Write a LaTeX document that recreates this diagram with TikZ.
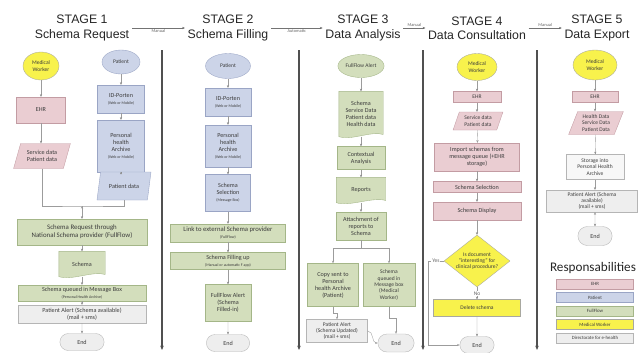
\documentclass[tikz,border=0pt]{standalone}
\usepackage{fontspec}
\setmainfont{Carlito}
\newfontfamily\headfont{Liberation Sans}
\usetikzlibrary{positioning, arrows.meta, shapes.geometric, shapes.misc, backgrounds, calc}

\definecolor{ehrFill}{HTML}{EACDD2}
\definecolor{ehrLine}{HTML}{C39CA3}
\definecolor{patFill}{HTML}{CCD4E8}
\definecolor{patLine}{HTML}{9AA5C5}
\definecolor{ffFill}{HTML}{D3DEBC}
\definecolor{ffLine}{HTML}{A4B688}
\definecolor{mwFill}{HTML}{F8F24C}
\definecolor{mwLine}{HTML}{A8A8A0}
\definecolor{dirFill}{HTML}{EEEEEE}
\definecolor{dirLine}{HTML}{B5B5B5}
\definecolor{connGrey}{HTML}{9C9C9C}
\definecolor{stageGrey}{HTML}{505050}
\definecolor{txtGrey}{HTML}{3C3C3C}

\newcommand\bodyfont{\fontsize{7}{8}\selectfont}
\newcommand\subfont{\fontsize{4.5}{5.5}\selectfont}
\newcommand\smallfont{\fontsize{6.3}{7.2}\selectfont}
\newcommand\headsize{\headfont\fontsize{14}{16}\selectfont}

\tikzset{
    block/.style={
        rectangle,
        thin,
        inner sep=1pt,
        align=center,
        text=txtGrey,
        font=\bodyfont
    },
    ehr/.style={block, draw=ehrLine, fill=ehrFill},
    pat/.style={block, draw=patLine, fill=patFill},
    ff/.style={block, draw=ffLine, fill=ffFill},
    mw/.style={block, draw=mwLine, fill=mwFill},
    dirbox/.style={block, draw=dirLine, fill=dirFill},
    sz/.style 2 args={minimum width=#1*0.04cm, minimum height=#2*0.04cm},
    oval/.style={ellipse},
    slanted/.style={
        trapezium,
        trapezium left angle=68,
        trapezium right angle=112,
        trapezium stretches=true
    },
    terminal/.style={block, rounded rectangle, draw=dirLine, fill=dirFill},
    doc/.style={block, draw=none, fill=none},
    arr/.style={draw=connGrey, thin, -{Stealth[length=3pt, width=2.4pt]}},
    ln/.style={draw=connGrey, thin},
    stageline/.style={draw=stageGrey, line width=1.5pt, -{Stealth[length=5pt, width=4pt]}},
    stagetitle/.style={align=center, font=\headsize, text=black!85, inner sep=3pt},
    flowlabel/.style={font=\fontsize{5}{6}\selectfont, text=black!60, inner sep=1pt}
}

% document shape with a wavy bottom, drawn behind a doc node
\newcommand\docshape[2]{%
    \begin{pgfonlayer}{background}
        \filldraw[draw=#2Line, fill=#2Fill, thin]
            (#1.north west) -- (#1.north east) -- ([yshift=2.5pt]#1.south east)
            .. controls ([yshift=7pt]$(#1.south)!0.5!(#1.south east)$)
            and ([yshift=-5pt]$(#1.south)!0.5!(#1.south west)$)
            .. (#1.south west) -- cycle;
    \end{pgfonlayer}}

\begin{document}
\begin{tikzpicture}[x=0.04cm, y=-0.04cm]
    \begin{pgfonlayer}{background}
        \fill[white] (0,0) rectangle (639,352);
    \end{pgfonlayer}
    \useasboundingbox (0,0) rectangle (639,352);

    % Titles
    \node (title1) [stagetitle] at (82,28) {STAGE 1\\Schema Request};
    \node (title2) [stagetitle] at (228,28) {STAGE 2\\Schema Filling};
    \node (title3) [stagetitle] at (363,28) {STAGE 3\\Data Analysis};
    \node (title4) [stagetitle] at (477,28) {STAGE 4\\Data Consultation};
    \node (title5) [stagetitle] at (597,28) {STAGE 5\\Data Export};

    \path [arr, draw=black!55]
        (title1) edge node [flowlabel, below] {Manual} (title2)
        (title2) edge node [flowlabel, below] {Automatic} (title3)
        (title3) edge node [flowlabel, above] {Manual} (title4)
        (title4) edge node [flowlabel, above] {Manual} (title5)
    ;

    % Separators
    \foreach \x [count=\i] in {162,299,423,537} {
        \coordinate (sepTop\i) at (\x,50);
        \coordinate (sepBot\i) at (\x,350);
        \draw [stageline] (sepTop\i) -- (sepBot\i);
    }

    % Stage 1
    \node (mwA) [mw, oval, sz={36}{28}, font=\smallfont] at (41,66) {Medical\\Worker};
    \node (ehrA) [ehr, sz={49}{26}] at (41,110) {EHR};
    \node (sdA) [ehr, slanted, sz={57}{25}] at (42,156) {Service data\\Patient data};
    \node (patA) [pat, oval, sz={38}{24}, font=\smallfont] at (121,62) {Patient};
    \node (idpA) [pat, sz={47}{28}] at (121,99) {ID-Porten\\{\subfont (Web or Mobile)}};
    \node (phaA) [pat, sz={47}{52}] at (121,146) {Personal\\health\\Archive\\{\subfont (Web or Mobile)}};
    \node (pdA) [pat, slanted, sz={54}{28}] at (124,186) {Patient data};
    \node (reqA) [ff, sz={130}{26}, font=\fontsize{7.8}{9}\selectfont] at (82,232) {Schema Request through\\National Schema provider (FullFlow)};
    \node (schA) [doc, sz={46}{25}] at (82,264) {Schema};
    \node (queA) [ff, sz={128}{16}] at (82,293) {Schema queued in Message Box\\{\subfont (Personal Health Archive)}};
    \node (alertA) [dirbox, sz={128}{18}] at (82,314) {Patient Alert (Schema available)\\(mail + sms)};
    \node (endA) [terminal, sz={46}{17}] at (82,342) {End};
    \docshape{schA}{ff}

    \coordinate (joinA) at (82,206);
    \path [arr]
        (mwA) edge (ehrA)
        (ehrA) edge (ehrA |- sdA.north)
        (patA) edge (idpA)
        (idpA) edge (phaA)
        (phaA) edge (phaA |- pdA.north)
        (joinA) edge (reqA)
        (reqA) edge (schA)
        (schA) edge (queA)
        (queA) edge (alertA)
        (alertA) edge (endA)
    ;
    \draw [ln] (sdA.south) |- (joinA) -| (pdA.south);

    % Stage 2
    \node (patB) [pat, oval, sz={45}{25}, font=\smallfont] at (228,66) {Patient};
    \node (idpB) [pat, sz={46}{28}] at (228,102) {ID-Porten\\{\subfont (Web or Mobile)}};
    \node (phaB) [pat, sz={46}{42}] at (228,146) {Personal\\health\\Archive\\{\subfont (Web or Mobile)}};
    \node (selB) [pat, sz={45}{37}] at (228,193) {Schema\\Selection\\{\subfont (Message Box)}};
    \node (linkB) [ff, sz={115}{18}, font=\fontsize{7.6}{8.6}\selectfont] at (228,233) {Link to external Schema provider\\{\subfont (FullFlow)}};
    \node (fillB) [ff, sz={115}{17}] at (228,261) {Schema Filling up\\{\subfont (Manual or automatic F app)}};
    \node (alertB) [ff, sz={46}{37}] at (228,303) {FullFlow Alert\\(Schema\\Filled-in)};
    \node (endB) [terminal, sz={45}{17}] at (228,343) {End};

    \path [arr]
        (patB) edge (idpB)
        (idpB) edge (phaB)
        (phaB) edge (selB)
        (selB) edge (linkB)
        (linkB) edge (fillB)
        (fillB) edge (alertB)
        (alertB) edge (endB)
    ;

    % Stage 3
    \node (ffC) [ff, oval, sz={46}{23}, font=\smallfont] at (361,66) {FullFlow Alert};
    \node (docC) [doc, sz={44}{45}] at (361,114) {Schema\\Service Data\\Patient data\\Health data};
    \node (ctxC) [ff, sz={48}{23}] at (361,158) {Contextual\\Analysis};
    \node (repC) [doc, sz={49}{25}] at (361,190) {Reports};
    \node (attC) [ff, sz={50}{28}] at (361,226) {Attachment of\\reports to\\Schema};
    \node (copyC) [ff, sz={51}{43}] at (333,285) {Copy sent to\\Personal\\health Archive\\(Patient)};
    \node (qC) [ff, sz={52}{43}, font=\smallfont] at (389,285) {Schema\\queued in\\Message box\\(Medical\\Worker)};
    \node (alertC) [dirbox, sz={61}{23}, font=\smallfont] at (337,331) {Patient Alert\\(Schema Updated)\\(mail + sms)};
    \node (endC) [terminal, sz={38}{18}] at (396,343) {End};
    \docshape{docC}{ff}
    \docshape{repC}{ff}

    \coordinate (splitC) at (361,248);
    \path [arr]
        (ffC) edge (docC)
        (docC) edge (ctxC)
        (ctxC) edge (repC)
        (repC) edge (attC)
    ;
    \draw [ln] (attC) -- (splitC);
    \draw [arr] (splitC) -| (copyC);
    \draw [arr] (splitC) -| (qC);
    \draw [arr] (copyC.south) -- ++(0,6) -| (alertC);
    \draw [arr] (qC.south) -- ++(0,11) -| (endC);
    \draw [arr] (alertC.east) to [out=0, in=180] (endC.west);

    % Stage 4
    \node (mwD) [mw, oval, sz={40}{27}, font=\smallfont] at (477,67) {Medical\\Worker};
    \node (ehrD) [ehr, sz={48}{11}, font=\smallfont] at (477,97) {EHR};
    \node (sdD) [ehr, slanted, sz={50}{18}, font=\smallfont] at (478,121) {Service data\\Patient data};
    \node (impD) [ehr, sz={85}{28}] at (477,157) {Import schemas from\\message queue (+EHR\\storage)};
    \node (selD) [ehr, sz={88}{11}] at (477,187) {Schema Selection};
    \node (dispD) [ehr, sz={88}{18}] at (477,211) {Schema Display};
    \node (decD) [mw, diamond, sz={66}{52},
        label={[font=\smallfont, align=center, text=txtGrey]center:Is document\\``interesting'' for\\clinical procedure?}] at (477,261) {};
    \node (delD) [mw, sz={87}{17}, font=\smallfont] at (477,308) {Delete schema};
    \node (endD) [terminal, sz={36}{17}] at (477,345) {End};

    \coordinate (yesTurn) at (428,261);
    \path [arr]
        (mwD) edge (ehrD)
        (ehrD) edge (ehrD |- sdD.north)
        (sdD) edge (impD)
        (impD) edge (selD)
        (selD) edge (dispD)
        (dispD) edge (decD)
        (decD) edge node [flowlabel, fill=white, font=\smallfont] {No} (delD)
        (delD) edge (endD)
    ;
    \draw [arr] (decD.west) -- node [flowlabel, fill=white, font=\smallfont] {Yes} (yesTurn) |- (endD);

    % Stage 5
    \node (mwE) [mw, oval, sz={44}{30}, font=\smallfont] at (595,65) {Medical\\Worker};
    \node (ehrE) [ehr, sz={46}{11}, font=\smallfont] at (595,97) {EHR};
    \node (sdE) [ehr, slanted, sz={55}{23}, font=\smallfont] at (596,123) {Health Data\\Service Data\\Patient Data};
    \node (stoE) [block, draw=dirLine, fill=white!97!black, sz={58}{25}, font=\smallfont] at (595,167) {Storage into\\Personal Health\\Archive};
    \node (alertE) [dirbox, sz={91}{22}, font=\smallfont] at (592,201) {Patient Alert (Schema\\available)\\(mail + sms)};
    \node (endE) [terminal, sz={36}{19}] at (595,236) {End};

    \path [arr]
        (mwE) edge (ehrE)
        (ehrE) edge (ehrE |- sdE.north)
        (sdE) edge (stoE)
        (stoE) edge (stoE |- alertE.north)
        (alertE.south -| endE) edge (endE)
    ;

    % Legend
    \node (legTitle) [font=\fontsize{15}{17}\selectfont, text=black!85] at (593,268) {Responsabilities};
    \node (legEhr) [ehr, sz={77}{10}, font=\fontsize{5.5}{6}\selectfont] at (595,284) {EHR};
    \node (legPat) [pat, sz={77}{10}, font=\fontsize{5.5}{6}\selectfont] at (595,297.5) {Patient};
    \node (legFf) [ff, sz={77}{10}, font=\fontsize{5.5}{6}\selectfont] at (595,311) {FullFlow};
    \node (legMw) [mw, sz={77}{10}, font=\fontsize{5.5}{6}\selectfont] at (595,324.5) {Medical Worker};
    \node (legDir) [dirbox, sz={77}{10}, font=\fontsize{5.5}{6}\selectfont] at (595,338) {Directorate for e-health};
\end{tikzpicture}
\end{document}
